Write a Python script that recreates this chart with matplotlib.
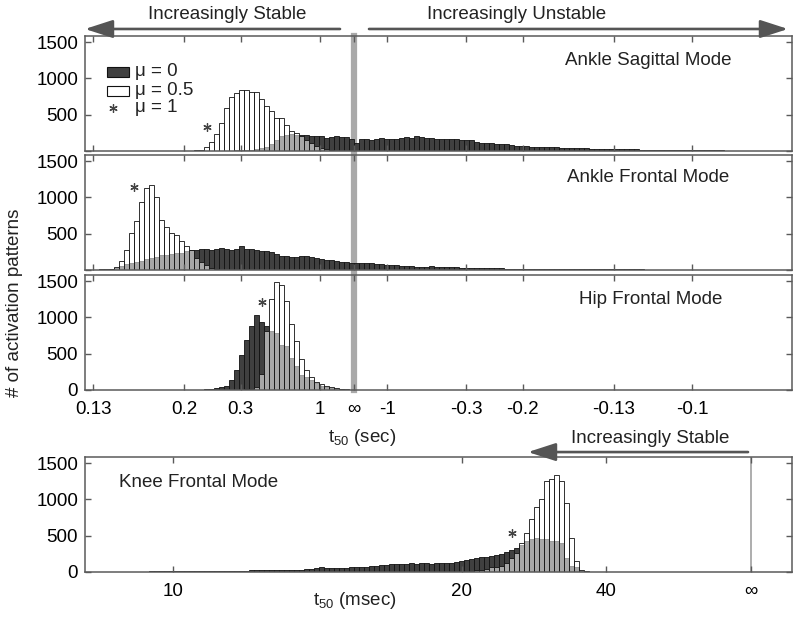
import numpy as np
import matplotlib.pyplot as plt
from matplotlib.patches import Rectangle

plt.rcParams['font.family'] = ['Liberation Sans', 'DejaVu Sans']
plt.rcParams['mathtext.fontset'] = 'custom'
plt.rcParams['mathtext.rm'] = 'Liberation Sans'
plt.rcParams['mathtext.it'] = 'Liberation Sans:italic'

# x axis of the histograms is -1/t50 (so +t50 on the left, -t50 on the right)
rate_start, rate_step = -7.96, 0.1477          # 1/sec
knee_start, knee_step = -0.11537, 0.000865     # 1/msec

# counts per bin, mu = 0 (dark) and mu = 0.5 (white)
sag_mu0 = [0] * 21 + [0, 0, 1, 1, 2, 2, 3, 4, 5, 8, 10, 15, 20,
    25, 40, 60, 100, 150, 200, 225, 230, 215, 220, 222, 208, 213, 205, 176, 199,
    208, 195, 190, 162, 116, 160, 160, 155, 165, 180, 160, 165, 170, 180, 195, 185,
    208, 190, 185, 180, 170, 165, 165, 160, 162, 158, 150, 150, 120, 115, 110, 105,
    100, 95, 90, 80, 75, 70, 72, 60,
    60, 55, 58, 52, 50, 48, 45, 40, 38, 37, 35, 34, 32, 30, 30, 28,
    25, 24, 23, 22, 22, 20, 20, 18, 18, 16, 15, 14, 14, 12, 12, 10,
    9, 9, 8, 8, 7, 7, 6, 6, 5, 5, 4, 4, 4, 3, 3, 3, 2, 2, 2, 2]
sag_mu05 = [0] * 21 + [3, 8, 20, 60, 130, 230, 385, 590, 745, 800, 840, 845, 810,
    810, 710, 615, 545, 455, 455, 360, 270, 245, 200, 150, 105, 75, 45, 25, 12, 6,
    3] + [0] * 90

front_mu0 = [2, 3, 5, 8, 12, 20, 32, 55, 78, 92, 106, 125, 148, 171, 185, 200, 208,
    222, 231, 240, 255, 270, 278, 285, 290, 280, 296, 300, 290, 278, 285, 324, 295,
    287, 280, 262, 255, 245, 215, 195, 190, 176, 180, 195, 198, 180, 167, 150, 139,
    135, 130, 115, 105, 100, 102, 95, 92, 90, 88, 80, 72, 70, 68,
    55, 52, 50, 48, 46, 45, 50, 44, 40, 42, 38, 35, 32, 30,
    28, 26, 25, 24, 23, 22, 22, 20, 20, 18, 17,
    16, 15, 15, 14, 14, 13, 13, 12, 12, 12, 11, 11, 10, 10, 10, 9,
    9, 9, 8, 8, 8, 7, 7, 7, 6, 6, 6, 5, 5,
    5, 5, 4, 4, 4, 4, 3, 3, 3, 3, 3, 2, 2, 2, 2, 2, 2, 2, 1, 1, 1, 1, 1, 1, 1]
front_mu05 = [0] * 4 + [3, 10, 46, 125, 278, 510, 680, 940, 1135, 1170, 1000, 695,
    588, 510, 477, 403, 324, 278, 162, 106, 69, 32, 10, 4] + [0] * 114

hip_mu0 = [0] * 20 + [1, 2, 3, 5, 10, 15, 22, 35, 55, 139, 278, 486, 685, 880, 1030,
    935, 880, 810, 787, 625, 602, 440, 333, 208, 176, 139, 93, 55, 37, 23, 14, 9,
    6, 4, 3, 2, 1] + [0] * 85
hip_mu05 = [0] * 30 + [3, 5, 10, 20, 46, 218, 810, 1250, 1490, 1445, 1227, 903, 672,
    426, 278, 176, 116, 83, 55, 37, 23, 14, 9, 5, 3, 2] + [0] * 86

knee_mu0 = [2, 3, 3, 3, 4, 4, 4, 5, 5, 5, 6, 6, 6, 7, 7, 8, 8, 8, 9, 9, 10, 10, 11, 11,
    12, 12, 13, 14, 15,
    18, 18, 20, 20, 22, 23, 24, 25, 26, 27, 28, 29, 30, 31, 32,
    40, 45, 55, 65, 60, 62, 58, 60, 62, 65, 68, 72, 75, 85, 88, 95,
    100, 110, 116, 112, 115, 118, 112, 120, 118, 115, 125, 122, 118, 130,
    135, 150, 165, 175, 190, 200, 208, 215, 240, 250, 270, 300, 333,
    366, 426, 449, 472, 458, 449, 426, 426, 393, 195, 79, 69, 10, 5] + [0] * 41
knee_mu05 = [0] * 78 + [23, 32, 42, 65, 69, 88, 125, 195, 264, 403, 532, 727, 889,
    1005, 1260, 1282, 1338, 1260, 949, 472, 148, 23, 8] + [0] * 41

# mu = 1 mode (asterisks): t50 and count
star_t = [0.231, 0.154, 0.37]
star_n = [330, 1140, 1210]
knee_star_t, knee_star_n = 24.2, 540

sec_ticks = [0.13, 0.2, 0.3, 1, np.inf, -1, -0.3, -0.2, -0.13, -0.1]
sec_labels = ['0.13', '0.2', '0.3', '1', '\u221e', '-1', '-0.3', '-0.2', '-0.13', '-0.1']
msec_ticks = [10, 20, 40, np.inf]
msec_labels = ['10', '20', '40', '\u221e']
modes = ['Ankle Sagittal Mode', 'Ankle Frontal Mode', 'Hip Frontal Mode']

DARK = '#404040'
EDGE = '#111111'
FRAME = '#5a5a5a'
STAR = '#444444'
FS = 13.5


def neg_rate(t):
    return [-1.0 / v for v in t]


def style(ax):
    for s in ax.spines.values():
        s.set_color(FRAME)
        s.set_linewidth(1.1)
    ax.tick_params(direction='in', length=4, width=1, color=FRAME, top=True, right=True,
                   labelsize=FS, pad=5)
    ax.tick_params(axis='x', pad=8)
    ax.set_ylim(0, 1585)
    ax.set_yticks([0, 500, 1000, 1500])
    ax.patch.set_visible(False)


def draw_hist(ax, start, step, mu0, mu05):
    left = start + step * np.arange(len(mu0))
    mu0 = np.array(mu0, float)
    mu05 = np.array(mu05, float)
    m = mu0 > 0
    ax.bar(left[m], mu0[m], width=step, align='edge', color=DARK, edgecolor=EDGE, linewidth=0.6)
    m = mu05 > 0
    ax.bar(left[m], mu05[m], width=step, align='edge', facecolor=(1, 1, 1, 0.55),
           edgecolor=EDGE, linewidth=0.6)


fig = plt.figure(figsize=(8, 6.18), dpi=100)
L, W, H = 85 / 800, 707 / 800, 115 / 618
bottoms = [1 - 151 / 618, 1 - 270 / 618, 1 - 390 / 618]
axs = [fig.add_axes([L, b, W, H]) for b in bottoms]
knee = fig.add_axes([L, 1 - 572 / 618, W, H])

series = [(sag_mu0, sag_mu05), (front_mu0, front_mu05), (hip_mu0, hip_mu05)]
title_xy = [(0.796, 0.783), (0.796, 0.80), (0.80, 0.791)]
for i, ax in enumerate(axs):
    style(ax)
    draw_hist(ax, rate_start, rate_step, *series[i])
    ax.set_xlim(-7.93, 12.95)
    ax.set_xticks(neg_rate(sec_ticks))
    ax.plot(-1.0 / star_t[i], star_n[i], ls='none', marker=(6, 2, 0), ms=6, mew=0.9, color=STAR)
    ax.text(title_xy[i][0], title_xy[i][1], modes[i], transform=ax.transAxes,
            ha='center', va='center', fontsize=FS, color='#222222')
    if i < 2:
        ax.set_xticklabels([])
        ax.set_yticklabels(['', '500', '1000', '1500'])
    else:
        ax.set_xticklabels(sec_labels)

# infinity band through the three upper panels
axs[0].axvline(0, ymin=-(390 - 151) / 115, ymax=1, color='#a9a9a9', lw=4.5,
               clip_on=False, zorder=0.5)

# stability arrows
arrow = dict(arrowstyle='-|>,head_length=1.7,head_width=0.55', color='#555555', lw=1.9,
             mutation_scale=10, shrinkA=0, shrinkB=0)
axs[0].annotate('', xy=(0.0, 1.061), xytext=(0.3607, 1.061), xycoords='axes fraction',
                arrowprops=arrow, annotation_clip=False)
axs[0].annotate('', xy=(0.9943, 1.061), xytext=(0.4017, 1.061), xycoords='axes fraction',
                arrowprops=arrow, annotation_clip=False)
axs[0].text(0.2008, 1.183, 'Increasingly Stable', transform=axs[0].transAxes,
            ha='center', va='center', fontsize=FS, color='#222222')
axs[0].text(0.611, 1.183, 'Increasingly Unstable', transform=axs[0].transAxes,
            ha='center', va='center', fontsize=FS, color='#222222')

# legend
ax = axs[0]
ax.add_patch(Rectangle((0.0311, 0.643), 0.0311, 0.087, transform=ax.transAxes,
                       facecolor=DARK, edgecolor=EDGE, lw=0.8))
ax.add_patch(Rectangle((0.0311, 0.478), 0.0311, 0.087, transform=ax.transAxes,
                       facecolor='white', edgecolor=EDGE, lw=0.8))
ax.plot([0.0396], [0.374], transform=ax.transAxes, ls='none', marker=(6, 2, 0), ms=6,
        mew=0.9, color=STAR)
for lab, y in zip(['\u03bc = 0', '\u03bc = 0.5', '\u03bc = 1'], [0.687, 0.530, 0.374]):
    ax.text(0.0707, y, lab, transform=ax.transAxes, ha='left', va='center', fontsize=FS,
            color='#222222')

axs[2].text(0.392, -0.41, r'$\mathregular{t_{50}}$ (sec)', transform=axs[2].transAxes,
            ha='center', va='center', fontsize=FS, color='#222222')

# knee panel (msec)
style(knee)
draw_hist(knee, knee_start, knee_step, knee_mu0, knee_mu05)
knee.set_xlim(-0.1152, 0.0071)
knee.set_xticks(neg_rate(msec_ticks))
knee.set_xticklabels(msec_labels)
knee.axvline(0, color='#a0a0a0', lw=1.2, zorder=0.5)
knee.plot(-1.0 / knee_star_t, knee_star_n, ls='none', marker=(6, 2, 0), ms=6, mew=0.9,
          color=STAR)
knee.text(0.1605, 0.774, 'Knee Frontal Mode', transform=knee.transAxes, ha='center',
          va='center', fontsize=FS, color='#222222')
knee.annotate('', xy=(0.6266, 1.043), xytext=(0.9378, 1.043), xycoords='axes fraction',
              arrowprops=arrow, annotation_clip=False)
knee.text(0.799, 1.157, 'Increasingly Stable', transform=knee.transAxes, ha='center',
          va='center', fontsize=FS, color='#222222')
knee.text(0.382, -0.25, r'$\mathregular{t_{50}}$ (msec)', transform=knee.transAxes,
          ha='center', va='center', fontsize=FS, color='#222222')

fig.text(15 / 800, 1 - 303 / 618, '# of activation patterns', rotation=90, ha='center',
         va='center', fontsize=FS, color='#222222')

plt.savefig('out.png', dpi=100)
